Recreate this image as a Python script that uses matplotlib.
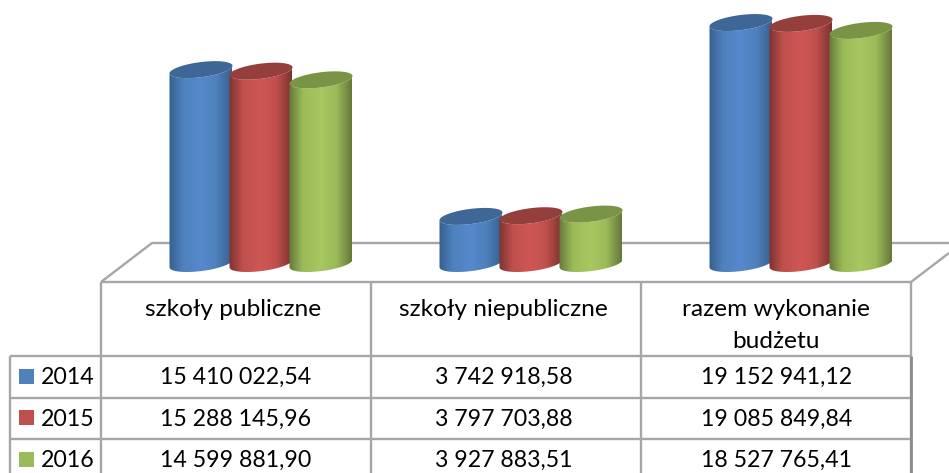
import matplotlib
matplotlib.use("Agg")
import matplotlib.pyplot as plt
import numpy as np
from matplotlib.colors import LinearSegmentedColormap
from matplotlib.patches import Polygon

plt.rcParams["font.family"] = ["Lato", "DejaVu Sans"]

categories = ["szkoły publiczne", "szkoły niepubliczne", "razem wykonanie\nbudżetu"]
years = ["2014", "2015", "2016"]
v2014 = [15410022.54, 3742918.58, 19152941.12]
v2015 = [15288145.96, 3797703.88, 19085849.84]
v2016 = [14599881.90, 3927883.51, 18527765.41]
series = [v2014, v2015, v2016]

# edge, base, light, top cap
colors = [
    ("#35608f", "#4f81bd", "#5689cd", "#3e6797"),
    ("#7c3331", "#c0504d", "#cf5754", "#953f3d"),
    ("#66793a", "#9bbb59", "#a7c860", "#7a9445"),
]
line_col = "#a6a6a6"
W, H = 949, 473
BASE_Y = 263.5
PX_PER_UNIT = 12.58 / 1e6
A, B, K = 31.5, 7.6, 3.8

fig = plt.figure(figsize=(W / 100, H / 100), dpi=100, facecolor="white")

# table / floor, in pixels
tb = fig.add_axes([0, 0, 1, 1], zorder=1)
tb.set_xlim(0, W)
tb.set_ylim(H, 0)
tb.axis("off")

# bars, in value units
ax = fig.add_axes([0, 0, 1, 1], zorder=2)
ax.patch.set_alpha(0)
ax.axis("off")


def ellipse(cx, cy, t):
    return cx + A * np.cos(t), cy + (K * np.cos(t) - B * np.sin(t)) / PX_PER_UNIT


def cylinder(cx, value, cols):
    edge, base, light, cap = cols
    cmap = LinearSegmentedColormap.from_list(
        "c", [(0, edge), (0.22, base), (0.5, light), (0.75, base), (1, edge)]
    )
    t1 = np.linspace(np.pi, 0, 60)
    bx, by = ellipse(cx, 0, t1)
    t2 = np.linspace(0, np.pi, 60)
    tx, ty = ellipse(cx, value, t2)
    outline = np.column_stack([np.r_[bx, tx], np.r_[by, ty]])
    poly = Polygon(outline, closed=True, transform=ax.transData, fc="none", ec="none")
    ax.add_patch(poly)
    im = ax.imshow(
        np.linspace(0, 1, 128)[None, :],
        cmap=cmap,
        extent=[cx - A, cx + A, -3e6, value + 3e6],
        aspect="auto",
        interpolation="bilinear",
        zorder=3,
    )
    im.set_clip_path(poly)
    # top cap
    t = np.linspace(0, 2 * np.pi, 120)
    cx_, cy_ = ellipse(cx, value, t)
    ax.fill(cx_, cy_, color=cap, lw=0, zorder=3)


group_x = [201 + 270 * i for i in range(len(categories))]
for s, vals in enumerate(series):
    for g, v in enumerate(vals):
        cylinder(group_x[g] + 60 * s, v, colors[s])

ax.set_xlim(0, W)
ax.set_ylim(-(H - BASE_Y) / PX_PER_UNIT, BASE_Y / PX_PER_UNIT)

lw = 1.7
col_x = [101, 371, 641, 911]


def ln(xs, ys, color=line_col, width=lw):
    tb.plot(xs, ys, color=color, lw=width, solid_capstyle="butt", clip_on=True)


ln([101, 152, 949], [282, 243, 243])
ln([911, 949], [282, 253])
ln([101, 911], [282, 282])
ln([10, 911], [356, 356])
ln([10, 911], [397.5, 397.5])
ln([10, 911], [439, 439])
for x in col_x:
    ln([x, x], [282, H])
ln([911, 911], [356, H], color="#8c8c8c", width=2.0)
ln([10, 10], [356, H])

label_size = 17.6
num_size = 16.7


def fmt(v):
    whole, dec = f"{v:,.2f}".split(".")
    return whole.replace(",", " ") + "," + dec


cat_x = [233, 503, 776]
for x, c in zip(cat_x, categories):
    for j, part in enumerate(c.split("\n")):
        tb.text(x, 309 + j * 32, part, ha="center", va="center", fontsize=label_size, color="black")

text_y = [377.5, 419.5, 460.5]
val_x = [236, 504, 777]
box_y = [369, 410, 452]
for s, vals in enumerate(series):
    tb.add_patch(plt.Rectangle((19, box_y[s]), 15, 15, fc=colors[s][1], ec="none"))
    tb.text(41, text_y[s], years[s], ha="left", va="center", fontsize=num_size, color="black")
    for g, v in enumerate(vals):
        tb.text(val_x[g], text_y[s], fmt(v), ha="center", va="center", fontsize=num_size, color="black")

plt.savefig("out.png", dpi=100)
plt.close()
